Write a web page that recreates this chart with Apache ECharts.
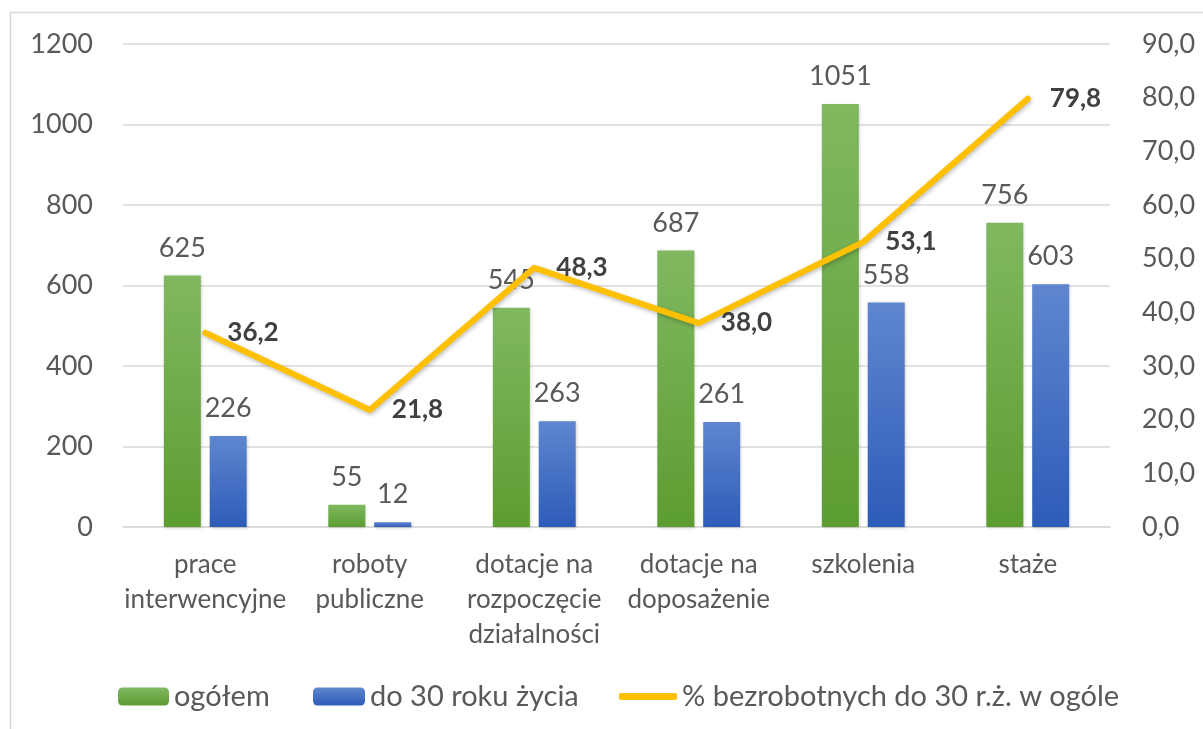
<!DOCTYPE html>
<html>
<head>
<meta charset="utf-8">
<script src="https://cdn.jsdelivr.net/npm/echarts@6/dist/echarts.min.js"></script>
<style>
html,body{margin:0;padding:0;background:#fff;}
#chart{width:1203px;height:729px;}
</style>
</head>
<body>
<div id="chart"></div>
<script>
var categories = ['prace\ninterwencyjne', 'roboty\npubliczne', 'dotacje na\nrozpoczęcie\ndziałalności', 'dotacje na\ndoposażenie', 'szkolenia', 'staże'];
var ogolem = [625, 55, 545, 687, 1051, 756];
var do30 = [226, 12, 263, 261, 558, 603];
var procent = [36.2, 21.8, 48.3, 38.0, 53.1, 79.8];
var seriesNames = ['ogółem', 'do 30 roku życia', '% bezrobotnych do 30 r.ż. w ogóle'];
var leftTicks = [0, 200, 400, 600, 800, 1000, 1200];
var rightTicks = [0, 10, 20, 30, 40, 50, 60, 70, 80, 90];

var FONT = 'Lato';
var TXT = '#595959';
var chart = echarts.init(document.getElementById('chart'), null, {renderer: 'canvas'});

function comma(v) { return Number(v).toFixed(1).replace('.', ','); }

var legendText = {fontFamily: FONT, fontSize: 29, color: TXT, padding: [0, 0, 0, 0]};

var option = {
  animation: false,
  backgroundColor: '#fff',
  textStyle: {fontFamily: FONT},
  graphic: [{
    type: 'rect',
    shape: {x: 10.5, y: 12.5, width: 1300, height: 800},
    style: {fill: 'none', stroke: '#D9D9D9', lineWidth: 1.5},
    silent: true, z: -10
  }],
  grid: {left: 123, right: 93, top: 44, bottom: 202, containLabel: false},
  legend: [
    {data: [seriesNames[0]], left: 113, top: 677, itemWidth: 51, itemHeight: 18, textStyle: legendText},
    {data: [seriesNames[1]], left: 308, top: 677, itemWidth: 52, itemHeight: 18, textStyle: legendText},
    {data: [{name: seriesNames[2], icon: 'roundRect', itemStyle: {color: '#FFC000'}}],
     left: 614, top: 677, itemWidth: 58, itemHeight: 7, textStyle: legendText}
  ],
  xAxis: {
    type: 'category',
    data: categories,
    axisLine: {show: true, lineStyle: {color: '#D9D9D9', width: 1.5}},
    axisTick: {show: false},
    axisLabel: {fontFamily: FONT, fontSize: 26, color: TXT, lineHeight: 35, margin: 20, interval: 0}
  },
  yAxis: [{
    type: 'value',
    min: leftTicks[0], max: leftTicks[leftTicks.length - 1], interval: leftTicks[1] - leftTicks[0],
    axisLine: {show: false}, axisTick: {show: false},
    splitLine: {lineStyle: {color: '#D9D9D9', width: 1.5}},
    axisLabel: {fontFamily: FONT, fontSize: 27, color: TXT, margin: 30, formatter: function (v) { return String(v); }}
  }, {
    type: 'value',
    min: rightTicks[0], max: rightTicks[rightTicks.length - 1], interval: rightTicks[1] - rightTicks[0],
    axisLine: {show: false}, axisTick: {show: false},
    splitLine: {show: false},
    axisLabel: {fontFamily: FONT, fontSize: 27, color: TXT, margin: 32, formatter: comma}
  }],
  series: [{
    name: seriesNames[0],
    type: 'bar',
    data: ogolem,
    barWidth: 37,
    barGap: '24%',
    itemStyle: {
      color: new echarts.graphic.LinearGradient(0, 0, 0, 1, [
        {offset: 0, color: '#80B860'}, {offset: 1, color: '#5C9D31'}
      ]),
      shadowColor: 'rgba(0,0,0,0.2)', shadowBlur: 3, shadowOffsetX: 1, shadowOffsetY: 1
    },
    label: {show: true, position: 'top', distance: 14, fontFamily: FONT, fontSize: 27, color: TXT}
  }, {
    name: seriesNames[1],
    type: 'bar',
    data: do30,
    barWidth: 37,
    itemStyle: {
      color: new echarts.graphic.LinearGradient(0, 0, 0, 1, [
        {offset: 0, color: '#5F86CF'}, {offset: 1, color: '#2D5CB8'}
      ]),
      shadowColor: 'rgba(0,0,0,0.2)', shadowBlur: 3, shadowOffsetX: 1, shadowOffsetY: 1
    },
    label: {show: true, position: 'top', distance: 14, fontFamily: FONT, fontSize: 27, color: TXT}
  }, {
    name: seriesNames[2],
    type: 'line',
    yAxisIndex: 1,
    data: procent,
    symbol: 'circle',
    symbolSize: 0.1,
    showSymbol: true,
    z: 5,
    lineStyle: {color: '#FFC000', width: 6, cap: 'round', join: 'round',
      shadowColor: 'rgba(0,0,0,0.25)', shadowBlur: 4, shadowOffsetX: 1, shadowOffsetY: 2},
    itemStyle: {color: '#FFC000'},
    label: {show: true, position: 'right', distance: 22, fontFamily: FONT, fontSize: 26,
      fontWeight: 'bold', color: '#404040', formatter: function (p) { return comma(p.value); }}
  }]
};
chart.setOption(option);
</script>
</body>
</html>
